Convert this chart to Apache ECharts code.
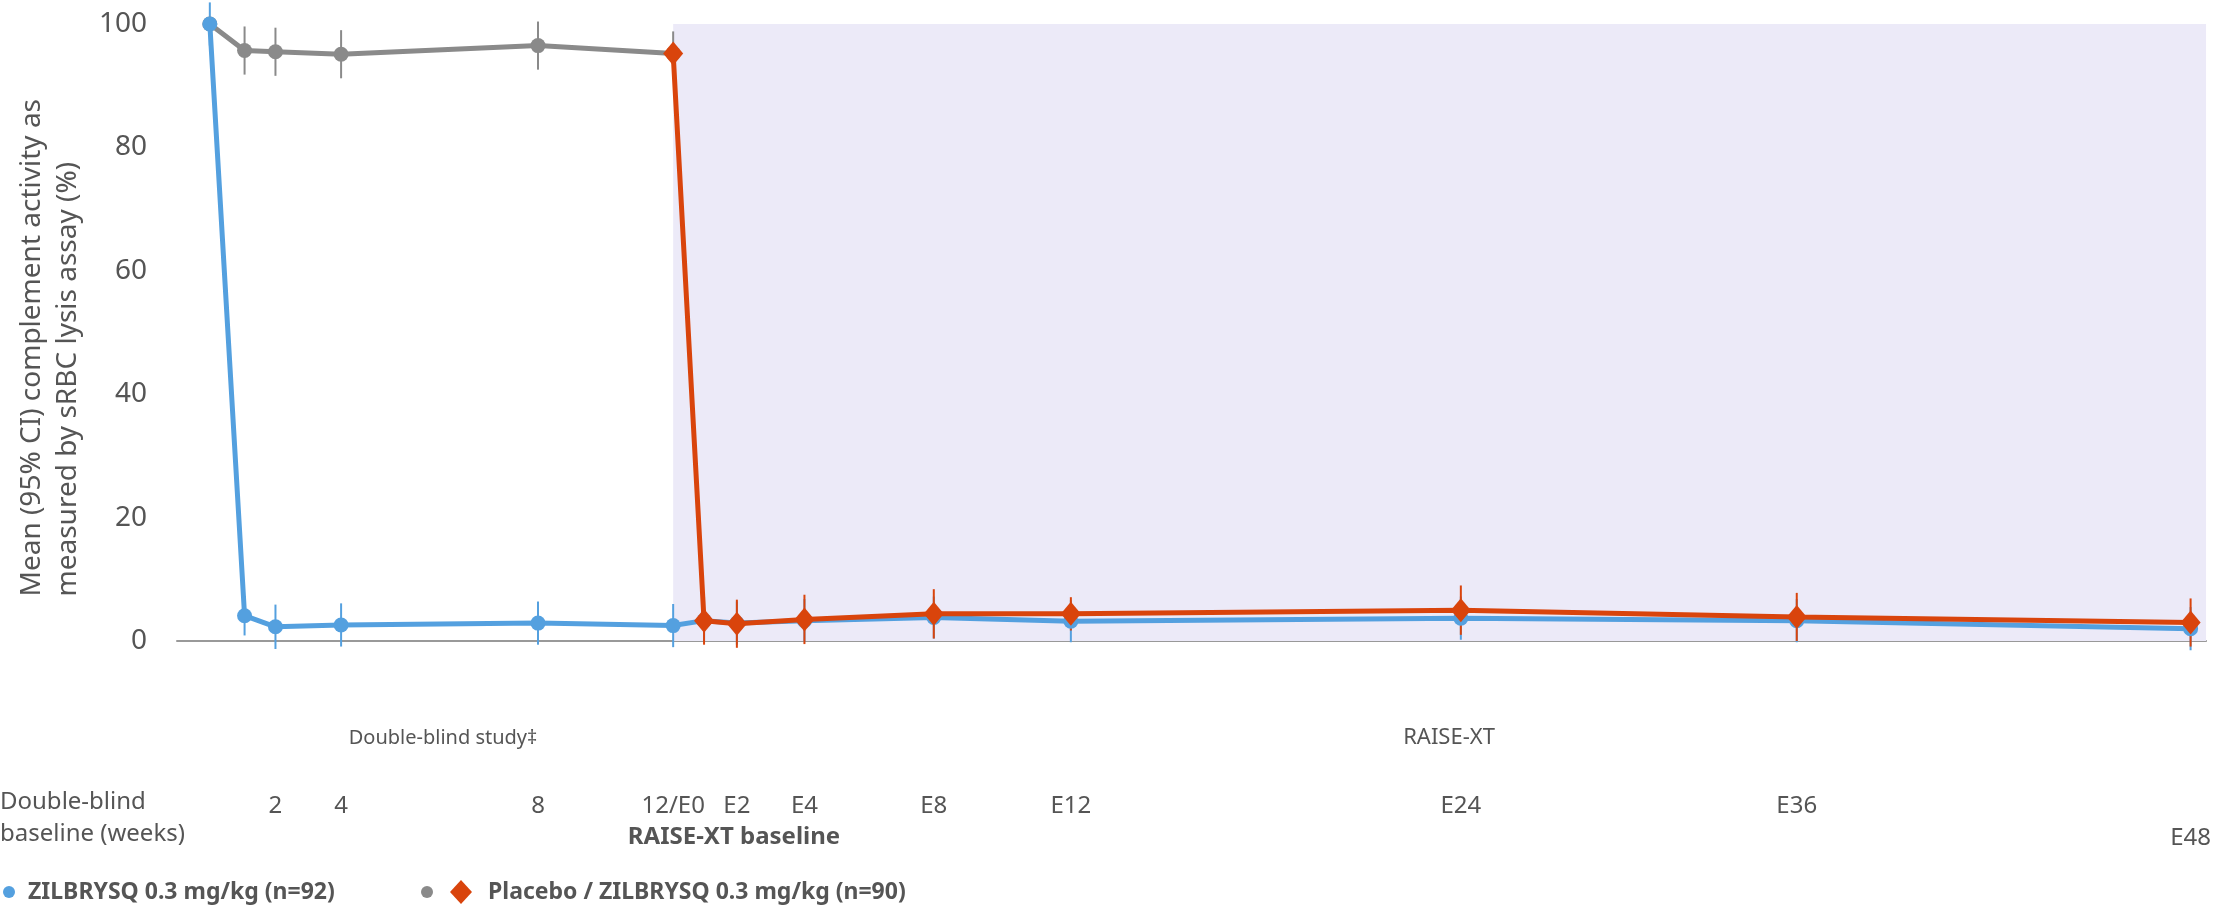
<!DOCTYPE html>
<html><head><meta charset="utf-8">
<script src="https://cdn.jsdelivr.net/npm/echarts@6/dist/echarts.min.js"></script>
<style>html,body{margin:0;padding:0;background:#fff}#c{width:2214px;height:907px}</style>
</head><body><div id="c"></div>
<script>
// x positions on the chart's (non-linear) visit scale
const xPos = [0, 0.9, 1.7, 3.4, 8.5, 12, 12.8, 13.65, 15.4, 18.75, 22.3, 32.4, 41.1, 51.3];
const tickPos = [1.7, 3.4, 8.5, 12, 13.65, 15.4, 18.75, 22.3, 32.4, 41.1, 51.3];
const tickLabels = ['2', '4', '8', '12/E0', 'E2', 'E4', 'E8', 'E12', 'E24', 'E36', '\nE48'];
const zilMean = [100, 4.1, 2.3, 2.6, 2.9, 2.5, 3.3, 2.9, 3.3, 3.8, 3.2, 3.7, 3.3, 2.0];
const zilCI = [3.5, 3.2, 3.6, 3.5, 3.5, 3.5, 3.3, 3.5, 3.5, 3.4, 3.4, 3.5, 3.5, 3.5];
const plcMean = [100, 95.7, 95.5, 95.1, 96.5, 95.2];
const plcCI = [0, 3.9, 3.9, 3.9, 3.9, 3.6];
const extMean = [95.2, 3.3, 2.8, 3.5, 4.4, 4.4, 5.0, 3.9, 3.0];
const extCI = [0, 3.9, 3.9, 4.0, 4.0, 2.7, 4.0, 3.9, 3.9];
const extStart = 5;

const BLUE = '#54a0df', GRAY = '#8a8a8a', RED = '#d9440c', TXT = '#555';
const zilData = xPos.map((x, i) => [x, zilMean[i]]);
const plcData = plcMean.map((v, i) => [xPos[i], v]);
const extData = extMean.map((v, i) => [xPos[extStart + i], v]);
function errData(pts, ci) { return pts.map((p, i) => [p[0], p[1] - ci[i], p[1] + ci[i]]).filter((d, i) => ci[i] > 0); }
function errSeries(pts, ci, color) {
  return {
    type: 'custom', data: errData(pts, ci), z: 1, silent: true,
    encode: { x: 0, y: [1, 2] },
    renderItem: (params, api) => {
      const a = api.coord([api.value(0), api.value(1)]);
      const b = api.coord([api.value(0), api.value(2)]);
      return { type: 'line', shape: { x1: a[0], y1: a[1], x2: b[0], y2: b[1] }, style: { stroke: color, lineWidth: 2 } };
    }
  };
}
const chart = echarts.init(document.getElementById('c'));
chart.setOption({
  animation: false,
  textStyle: { fontFamily: 'Noto Sans' },
  grid: { left: 177, right: 4, top: 24, bottom: 266 },
  xAxis: {
    type: 'value', min: -0.85, max: 51.7,
    axisLine: { show: true, lineStyle: { color: '#999', width: 2 } },
    axisTick: { show: false }, splitLine: { show: false },
    axisLabel: {
      customValues: tickPos, margin: 149, fontSize: 24, color: TXT, lineHeight: 32,
      formatter: v => { const i = tickPos.findIndex(t => Math.abs(t - v) < 1e-6); return i >= 0 ? tickLabels[i] : ''; }
    }
  },
  yAxis: {
    type: 'value', min: 0, max: 100, interval: 20,
    axisLine: { show: false }, axisTick: { show: false }, splitLine: { show: false },
    axisLabel: { fontSize: 28, color: TXT, margin: 30 }
  },
  series: [
    { type: 'line', data: [], markArea: { silent: true, itemStyle: { color: '#eceaf8' }, data: [[{ xAxis: 12, yAxis: 0 }, { xAxis: 51.7, yAxis: 100 }]] } },
    errSeries(zilData, zilCI, BLUE),
    errSeries(plcData, plcCI, GRAY),
    errSeries(extData, extCI, RED),
    { type: 'line', data: plcData, color: GRAY, lineStyle: { width: 5, color: GRAY }, symbol: 'circle', symbolSize: 15, z: 2 },
    { type: 'line', data: zilData, color: BLUE, lineStyle: { width: 5, color: BLUE }, symbol: 'circle', symbolSize: 15, z: 3 },
    { type: 'line', data: extData, color: RED, lineStyle: { width: 5, color: RED }, symbol: 'diamond', symbolSize: [20, 24], z: 4,
      itemStyle: { color: RED } }
  ],
  graphic: [
    { type: 'text', left: 14, top: 99, rotation: Math.PI / 2,
      style: { text: 'Mean (95% CI) complement activity as\nmeasured by sRBC lysis assay (%)', font: '28px "Noto Sans"', fill: TXT, align: 'center', lineHeight: 36 } },
    { type: 'text', x: 443, y: 738, style: { text: 'Double-blind study‡', font: '20px "Noto Sans"', fill: TXT, align: 'center', verticalAlign: 'middle' } },
    { type: 'text', x: 1449, y: 738, style: { text: 'RAISE-XT', font: '22px "Noto Sans"', fill: TXT, align: 'center', verticalAlign: 'middle' } },
    { type: 'text', x: 0, y: 802, style: { text: 'Double-blind', font: '24px "Noto Sans"', fill: TXT, verticalAlign: 'middle' } },
    { type: 'text', x: 0, y: 834, style: { text: 'baseline (weeks)', font: '24px "Noto Sans"', fill: TXT, verticalAlign: 'middle' } },
    { type: 'text', x: 734, y: 837, style: { text: 'RAISE-XT baseline', font: 'bold 24px "Noto Sans"', fill: TXT, align: 'center', verticalAlign: 'middle' } },
    { type: 'circle', shape: { cx: 9, cy: 892, r: 6 }, style: { fill: BLUE } },
    { type: 'text', x: 28, y: 892, style: { text: 'ZILBRYSQ 0.3 mg/kg (n=92)', font: 'bold 23px "Noto Sans"', fill: TXT, verticalAlign: 'middle' } },
    { type: 'circle', shape: { cx: 427, cy: 892, r: 6 }, style: { fill: GRAY } },
    { type: 'polygon', shape: { points: [[461, 880], [472, 892], [461, 904], [450, 892]] }, style: { fill: RED } },
    { type: 'text', x: 488, y: 892, style: { text: 'Placebo / ZILBRYSQ 0.3 mg/kg (n=90)', font: 'bold 23px "Noto Sans"', fill: TXT, verticalAlign: 'middle' } }
  ]
});
</script></body></html>
